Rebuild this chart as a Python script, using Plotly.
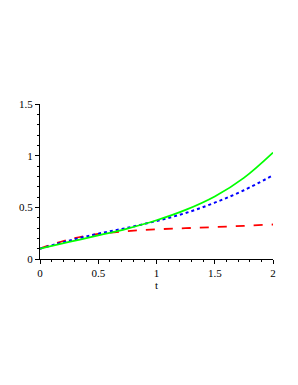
import plotly.graph_objects as go

t = [0, 0.25, 0.5, 0.75, 1.0, 1.25, 1.5, 1.75, 2.0]
green = [0.10, 0.165, 0.228, 0.295, 0.375, 0.475, 0.605, 0.785, 1.03]
blue = [0.10, 0.178, 0.245, 0.302, 0.368, 0.445, 0.545, 0.665, 0.81]
red = [0.10, 0.19, 0.243, 0.27, 0.287, 0.298, 0.309, 0.321, 0.334]

fig = go.Figure()
fig.add_trace(go.Scatter(x=t, y=red, mode="lines", line=dict(color="#ff0000", width=1.8, dash="dash", shape="spline")))
fig.add_trace(go.Scatter(x=t, y=blue, mode="lines", line=dict(color="#0000ff", width=2, dash="dot", shape="spline")))
fig.add_trace(go.Scatter(x=t, y=green, mode="lines", line=dict(color="#00ff00", width=1.8, shape="spline")))

font = dict(family="Liberation Serif", size=11, color="black")
fig.update_layout(
    width=290, height=377,
    margin=dict(l=32, r=25, t=96, b=126),
    paper_bgcolor="white", plot_bgcolor="white",
    showlegend=False,
    font=font,
)
fig.update_xaxes(range=[0, 2], tickvals=[0, 0.5, 1, 1.5, 2], ticktext=["0", "0.5", "1", "1.5", "2"],
                 showgrid=False, zeroline=False, showline=True, linecolor="black", linewidth=1,
                 ticks="outside", ticklen=4, tickcolor="black",
                 minor=dict(dtick=0.1, ticks="outside", ticklen=2, tickcolor="black"),
                 title=dict(text="t", font=font, standoff=2))
fig.update_yaxes(range=[0, 1.5], tickvals=[0, 0.5, 1, 1.5], ticktext=["0", "0.5", "1", "1.5"],
                 showgrid=False, zeroline=False, showline=True, linecolor="black", linewidth=1,
                 ticks="outside", ticklen=4, tickcolor="black",
                 minor=dict(dtick=0.1, ticks="outside", ticklen=2, tickcolor="black"))
fig.write_html("out.html")
